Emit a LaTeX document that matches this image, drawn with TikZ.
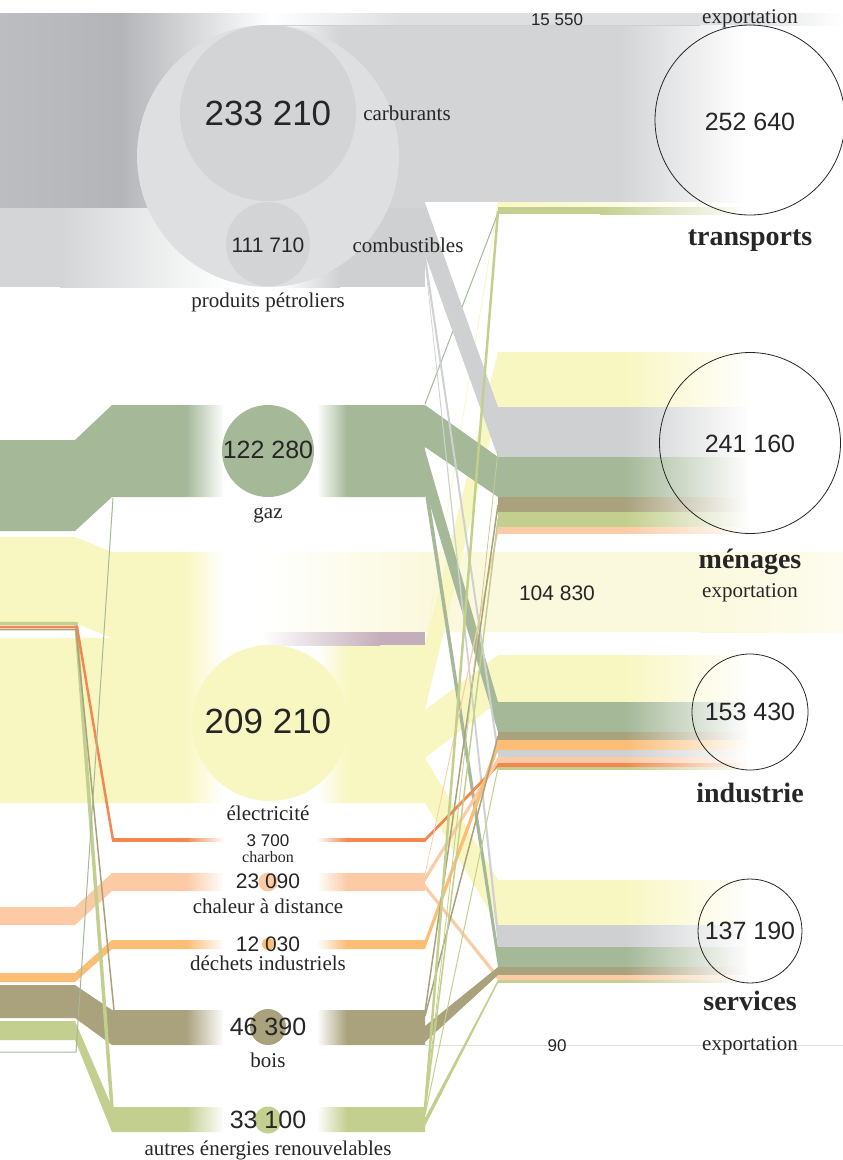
\documentclass[tikz,border=0pt]{standalone}
\usepackage{fontspec}
\setmainfont{Liberation Serif}
\newfontfamily\chiffres{Liberation Sans}
\usetikzlibrary{fadings}

\definecolor{grisF}{HTML}{B4B5B9}
\definecolor{grisG}{HTML}{BCBDC0}
\definecolor{grisM}{HTML}{C9CACC}
\definecolor{gris}{HTML}{CFD0D2}
\definecolor{grisC}{HTML}{D4D5D7}
\definecolor{grisB}{HTML}{D3D4D6}
\definecolor{grisP}{HTML}{DEDFE1}
\definecolor{grisL}{HTML}{EFEFF0}
\definecolor{vert}{HTML}{A5B999}
\definecolor{jaune}{HTML}{F9F7C1}
\definecolor{jauneP}{HTML}{FBF9DD}
\definecolor{jauneL}{HTML}{FDFCEE}
\definecolor{mauve}{HTML}{C4AEBB}
\definecolor{rouille}{HTML}{F4874F}
\definecolor{peche}{HTML}{FCCBA5}
\definecolor{dechet}{HTML}{FCBD75}
\definecolor{brun}{HTML}{A9A27D}
\definecolor{vertC}{HTML}{C3CF8E}
\definecolor{texte}{HTML}{262626}

\tikzfading[name=entree, left color=transparent!100, right color=transparent!0]
\tikzfading[name=sortie, left color=transparent!0, right color=transparent!100]

\begin{document}
\begin{tikzpicture}[
            x=1pt, y=-1pt,
            % Style des nombres
            grand/.style={font=\chiffres\fontsize{35}{38}\selectfont, text=texte, inner sep=0pt, anchor=base},
            nombre/.style={font=\chiffres\fontsize{25}{28}\selectfont, text=texte, inner sep=0pt, anchor=base},
            moyen/.style={font=\chiffres\fontsize{21}{24}\selectfont, text=texte, inner sep=0pt, anchor=base},
            petit/.style={font=\chiffres\fontsize{17}{19}\selectfont, text=texte, inner sep=0pt, anchor=base},
            % Style des textes
            etiquette/.style={font=\fontsize{21}{24}\selectfont, text=texte, inner sep=0pt, anchor=base},
            mini/.style={font=\fontsize{16}{18}\selectfont, text=texte, inner sep=0pt, anchor=base},
            secteur/.style={font=\bfseries\fontsize{28}{30}\selectfont, text=texte, inner sep=0pt, anchor=base},
            % Style des cercles
            pastille/.style={circle, inner sep=0pt},
            bulle/.style={circle, draw=texte, line width=0.8pt, inner sep=0pt}
        ]
            \useasboundingbox (0,0) rectangle (843,1160);

            % PRODUITS PETROLIERS: CARBURANTS
            \fill[left color=grisG, right color=grisF] (0,13) rectangle (120,208);
            \fill[left color=grisF, right color=grisM] (120,13) rectangle (165,208);
            \fill[left color=grisM, right color=white] (165,13) rectangle (270,208);
            \fill[left color=white, right color=grisB] (270,25) rectangle (340,208);
            \fill[grisB] (340,25) rectangle (425,208);
            \fill[grisB] (425,25) rectangle (620,202);
            \fill[left color=grisB, right color=white] (620,25) rectangle (745,202);

            % PRODUITS PETROLIERS: COMBUSTIBLES
            \fill[grisC] (0,208) rectangle (60,287);
            \fill[left color=grisC, right color=white] (60,208) rectangle (230,287);
            \fill[left color=white, right color=gris] (280,208) rectangle (340,287);
            \fill[gris] (340,208) rectangle (425,287);

            % EXPORTATION DES CARBURANTS
            \fill[left color=white, right color=grisP] (270,13) rectangle (400,25);
            \fill[grisP] (400,13) rectangle (740,25);
            \fill[left color=grisP, right color=white] (740,13) rectangle (843,25);
            \draw[gris, line width=0.6pt] (270,25) -- (700,25);

            % GAZ
            \fill[vert] (0,440) -- (75,440) -- (112,405) -- (425,405) -- (425,497) -- (112,497) -- (75,531) -- (0,531) -- cycle;

            % ELECTRICITE
            \fill[jaune] (0,537) -- (75,537) -- (112,552) -- (425,552) -- (425,803) -- (0,803) -- (0,638) -- (112,638) -- (75,623) -- (0,623) -- cycle;

            % CHARBON
            \fill[rouille] (112,838) rectangle (425,842);

            % CHALEUR A DISTANCE
            \fill[peche] (0,907) -- (75,907) -- (112,873) -- (425,873) -- (425,891) -- (112,891) -- (75,925) -- (0,925) -- cycle;

            % DECHETS INDUSTRIELS
            \fill[dechet] (0,973) -- (75,973) -- (112,940) -- (425,940) -- (425,949) -- (112,949) -- (75,982) -- (0,982) -- cycle;

            % BOIS
            \fill[brun] (0,985) -- (75,985) -- (112,1010) -- (425,1010) -- (425,1045) -- (112,1045) -- (75,1018) -- (0,1018) -- cycle;

            % AUTRES ENERGIES RENOUVELABLES
            \fill[vertC] (0,1021) -- (75,1021) -- (112,1107) -- (425,1107) -- (425,1132) -- (112,1132) -- (75,1040) -- (0,1040) -- cycle;

            % FILETS VENANT DE GAUCHE
            \draw[vertC, line width=3.5pt] (0,623.5) -- (76,623.5) -- (112,1108);
            \draw[rouille, line width=2.5pt] (0,627) -- (77,627) -- (113,840);
            \draw[brun, line width=1.5pt] (0,629.5) -- (76,629.5) -- (114,1010);
            \draw[vert, line width=1pt] (0,1052) -- (76,1052) -- (113,498);

            % FONDU BLANC AUTOUR DES CERCLES
            \fill[white, path fading=entree] (186,400) rectangle (224,1140);
            \fill[white] (223,400) rectangle (318,1140);
            \fill[white, path fading=sortie] (317,400) rectangle (347,1140);

            % EXPORTATION D'ELECTRICITE ET POMPAGE
            \fill[left color=white, right color=jauneP] (262,552) rectangle (420,632);
            \fill[jauneP] (420,552) rectangle (700,632);
            \fill[left color=jauneP, right color=jauneL] (700,552) rectangle (843,632);
            \fill[left color=white, right color=mauve] (262,632) rectangle (380,645);
            \fill[mauve] (380,632) rectangle (425,645);

            % TRANSPORTS
            \fill[left color=jaune, right color=white] (498,202) rectangle (720,207);
            \fill[vertC] (498,207) rectangle (600,214);
            \fill[left color=vertC, right color=white] (600,207) rectangle (748,214);

            % MENAGES
            \fill[jaune] (498,352) rectangle (748,407);
            \fill[gris] (498,407) rectangle (748,457);
            \fill[vert] (498,457) rectangle (748,497);
            \fill[brun] (498,497) rectangle (748,512);
            \fill[vertC] (498,512) rectangle (748,527);
            \fill[peche] (498,527) rectangle (748,534);
            \fill[white, path fading=entree] (625,350) rectangle (749,536);

            % INDUSTRIE
            \fill[jaune] (498,655) rectangle (748,702);
            \fill[vert] (498,702) rectangle (748,732);
            \fill[brun] (498,732) rectangle (748,740);
            \fill[dechet] (498,740) rectangle (748,750);
            \fill[gris] (498,750) rectangle (748,757);
            \fill[peche] (498,757) rectangle (748,763);
            \fill[rouille] (498,763) rectangle (748,767);
            \fill[vertC] (498,767) rectangle (748,770);
            \fill[white, path fading=entree] (625,653) rectangle (749,772);

            % SERVICES
            \fill[jaune] (498,880) rectangle (748,925);
            \fill[gris] (498,925) rectangle (748,947);
            \fill[vert] (498,947) rectangle (748,967);
            \fill[brun] (498,967) rectangle (748,975);
            \fill[peche] (498,975) rectangle (748,980);
            \fill[vertC] (498,980) rectangle (748,983);
            \fill[white, path fading=entree] (625,878) rectangle (749,985);

            % EXPORTATION DU BOIS
            \draw[grisP, line width=1pt] (425,1045) -- (843,1045);

            % FLUX: ELECTRICITE
            \fill[jaune] (425,645) -- (498,352) -- (498,407) -- (425,710) -- cycle;
            \fill[jaune] (425,710) -- (498,655) -- (498,702) -- (425,758) -- cycle;
            \fill[jaune] (425,758) -- (498,880) -- (498,925) -- (425,803) -- cycle;
            \fill[jaune] (425,645) -- (498,202) -- (498,207) -- (425,649) -- cycle;

            % FLUX: GAZ
            \fill[vert] (425,405) -- (498,457) -- (498,497) -- (425,447) -- cycle;
            \fill[vert] (425,450) -- (498,702) -- (498,732) -- (425,488) -- cycle;
            \fill[vert] (425,470) -- (498,947) -- (498,967) -- (425,494) -- cycle;
            \draw[vert, line width=1pt] (425,404) -- (498,213);

            % FLUX: COMBUSTIBLES
            \fill[gris] (425,203) -- (498,407) -- (498,457) -- (425,255) -- cycle;
            \draw[gris, line width=2pt] (425,257) -- (498,753);
            \fill[gris] (425,258) -- (498,925) -- (498,947) -- (425,263) -- cycle;

            % FLUX: CHARBON, CHALEUR, DECHETS
            \fill[rouille] (425,838) -- (498,763) -- (498,767) -- (425,842) -- cycle;
            \fill[peche] (425,873) -- (498,527) -- (498,534) -- (425,876) -- cycle;
            \fill[peche] (425,876) -- (498,757) -- (498,763) -- (425,882) -- cycle;
            \fill[peche] (425,884) -- (498,975) -- (498,980) -- (425,889) -- cycle;
            \fill[dechet] (425,940) -- (498,740) -- (498,750) -- (425,949) -- cycle;

            % FLUX: BOIS
            \fill[brun] (425,1026) -- (498,967) -- (498,975) -- (425,1042) -- cycle;
            \draw[brun, line width=1.5pt] (425,1012) -- (498,505);
            \draw[brun, line width=1.5pt] (425,1016) -- (498,736);

            % FLUX: AUTRES ENERGIES RENOUVELABLES
            \draw[vertC, line width=2.5pt] (425,1108) -- (498,211);
            \draw[vertC, line width=1.5pt] (425,1112) -- (498,519);
            \draw[vertC, line width=1pt] (425,1115) -- (498,768);
            \draw[vertC, line width=0.8pt] (425,1110) -- (498,452);
            \fill[vertC] (425,1118) -- (498,980) -- (498,983) -- (425,1126) -- cycle;

            % CERCLES DES AGENTS ENERGETIQUES
            \node[pastille, fill=grisP, minimum size=262pt] (c-petrole) at (268,156) {};
            \node[pastille, fill=grisB, minimum size=176pt] (c-carb) at (268,113) {};
            \node[pastille, fill=grisB, minimum size=84pt] (c-comb) at (268,244) {};
            \node[pastille, fill=vert, minimum size=92pt] (c-gaz) at (268,451) {};
            \node[pastille, fill=jaune, minimum size=156pt] (c-elec) at (270,723) {};
            \node[pastille, fill=peche, minimum size=19pt] (c-chal) at (268,882) {};
            \node[pastille, fill=dechet, minimum size=12pt] (c-dech) at (268,944) {};
            \node[pastille, fill=brun, minimum size=36pt] (c-bois) at (268,1027) {};
            \node[pastille, fill=vertC, minimum size=27pt] (c-autres) at (268,1120) {};

            % CERCLES DES CONSOMMATEURS
            \node[bulle, minimum size=190pt] (c-transports) at (750,120) {};
            \node[bulle, minimum size=181pt] (c-menages) at (750,443) {};
            \node[bulle, minimum size=116pt] (c-industrie) at (750,712) {};
            \node[bulle, minimum size=104pt] (c-services) at (750,931) {};

            % NOMBRES
            \node[grand] (n-carb) at (268,125) {233 210};
            \node[moyen] (n-comb) at (268,252) {111 710};
            \node[petit] (n-export1) at (557,25) {15 550};
            \node[nombre] (n-transports) at (750,130) {252 640};
            \node[nombre] (n-gaz) at (268,458) {122 280};
            \node[nombre] (n-menages) at (750,452) {241 160};
            \node[moyen] (n-export2) at (557,600) {104 830};
            \node[grand] (n-elec) at (268,733) {209 210};
            \node[nombre] (n-industrie) at (750,720) {153 430};
            \node[petit] (n-charb) at (268,846) {3 700};
            \node[moyen] (n-chal) at (268,888) {23 090};
            \node[moyen] (n-dech) at (268,951) {12 030};
            \node[nombre] (n-services) at (750,939) {137 190};
            \node[nombre] (n-bois) at (268,1035) {46 390};
            \node[petit] (n-export3) at (557,1051) {90};
            \node[nombre] (n-autres) at (268,1128) {33 100};

            % ETIQUETTES
            \node[etiquette] (l-carb) at (407,120) {carburants};
            \node[etiquette] (l-comb) at (408,252) {combustibles};
            \node[etiquette] (l-petrole) at (268,307) {produits pétroliers};
            \node[etiquette] (l-export1) at (750,23) {exportation};
            \node[etiquette] (l-gaz) at (268,518) {gaz};
            \node[etiquette] (l-export2) at (750,597) {exportation};
            \node[etiquette] (l-elec) at (268,820) {électricité};
            \node[mini] (l-charb) at (268,862) {charbon};
            \node[etiquette] (l-chal) at (268,913) {chaleur à distance};
            \node[etiquette] (l-dech) at (268,970) {déchets industriels};
            \node[etiquette] (l-bois) at (268,1067) {bois};
            \node[etiquette] (l-export3) at (750,1050) {exportation};
            \node[etiquette] (l-autres) at (268,1155) {autres énergies renouvelables};

            % SECTEURS
            \node[secteur] (s-transports) at (750,245) {transports};
            \node[secteur] (s-menages) at (750,568) {ménages};
            \node[secteur] (s-industrie) at (750,802) {industrie};
            \node[secteur] (s-services) at (750,1010) {services};

        \end{tikzpicture}
\end{document}
